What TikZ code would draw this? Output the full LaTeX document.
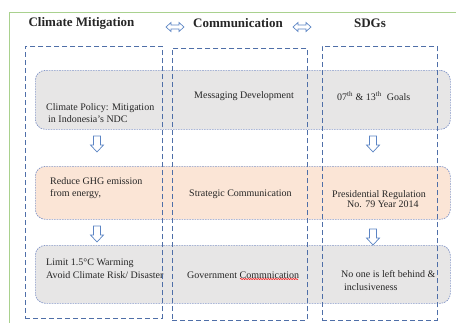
\documentclass[tikz,border=0pt]{standalone}
\usepackage{fontspec}
\setmainfont{Liberation Serif}
\usetikzlibrary{decorations.pathmorphing}
\definecolor{framegreen}{HTML}{A9D18E}
\definecolor{graybox}{HTML}{E7E6E6}
\definecolor{peachbox}{HTML}{FBE5D6}
\definecolor{boxline}{HTML}{8497C8}
\definecolor{colline}{HTML}{4F6FA8}
\definecolor{arrline}{HTML}{5B84C4}
\definecolor{txtgray}{HTML}{262626}
\tikzset{
  rowbox/.style={draw=boxline, line width=0.7pt, dash pattern=on 1.6pt off 1pt, rounded corners=10pt, anchor=north west, inner sep=0pt},
  colbox/.style={draw=colline, line width=0.8pt, dash pattern=on 5pt off 3pt, anchor=north west, inner sep=0pt},
  title/.style={font=\fontsize{13}{15}\selectfont\bfseries, inner sep=0pt, text=txtgray},
  txt/.style={font=\fontsize{10}{12.5}\selectfont, inner sep=0pt, align=left, anchor=west, text=txtgray},
  hollow/.style={draw=arrline, fill=white, line width=0.7pt, line join=miter},
  downarr/.pic={\path[hollow] (-3.5,0) -- (3.5,0) -- (3.5,9) -- (6.5,9) -- (0,16) -- (-6.5,9) -- (-3.5,9) -- cycle;},
  lrarr/.pic={\path[hollow] (-9,0) -- (-4,-4.5) -- (-4,-2) -- (4,-2) -- (4,-4.5) -- (9,0) -- (4,4.5) -- (4,2) -- (-4,2) -- (-4,4.5) -- cycle;}
}
\begin{document}
\begin{tikzpicture}[x=1pt,y=-1pt]
\useasboundingbox (0,0) rectangle (456,322);
% outer frame
\draw[framegreen, line width=0.9pt] (9.5,340) |- (470,12);
% titles
\node[title] (h1) at (81.5,23) {Climate Mitigation};
\node[title] (h2) at (238,23) {Communication};
\node[title] (h3) at (370,23) {SDGs};
\pic at (175,27) {lrarr};
\pic at (302,27) {lrarr};
% row boxes
\node[rowbox, fill=graybox, minimum width=415pt, minimum height=59pt] (r1) at (35,70) {};
\node[rowbox, fill=peachbox, minimum width=415pt, minimum height=53pt] (r2) at (35,166) {};
\node[rowbox, fill=graybox, minimum width=415pt, minimum height=58pt] (r3) at (35,245) {};
% texts row 1
\node[txt] (t11) at (46,113) {Climate Policy: Mitigation\\\hspace{2pt}in Indonesia's NDC};
\node[txt] (t12) at (194,96) {Messaging Development};
\node[txt] (t13) at (337,96) {07\textsuperscript{th} \& 13\textsuperscript{th}\ \ Goals};
% texts row 2
\node[txt] (t21) at (50,188) {Reduce GHG emission\\from energy,};
\node[txt] (t22) at (189,194) {Strategic Communication};
\node[txt, font=\fontsize{10}{10.5}\selectfont] (t23) at (332,199) {Presidential Regulation\\\hspace{15pt}No. 79 Year 2014};
% texts row 3
\node[txt, font=\fontsize{10}{13.3}\selectfont] (t31) at (46,268.5) {Limit 1.5°C Warming\\Avoid Climate Risk/ Disaster};
\node[txt] (t32) at (187,275) {Government Commnication};
\node[txt] (t33) at (341,280.5) {No one is left behind \&\\\hspace{3pt}inclusiveness};
\draw[red, line width=0.5pt, decorate, decoration={snake, amplitude=0.6pt, segment length=2.5pt}] (240,279) -- (298,279);
% down arrows
\pic at (97,136) {downarr};
\pic at (373,136) {downarr};
\pic at (97,226) {downarr};
\pic at (373,229) {downarr};
% columns
\node[colbox, minimum width=137pt, minimum height=272pt] (c1) at (25,46) {};
\node[colbox, minimum width=135pt, minimum height=272pt] (c2) at (172,48) {};
\node[colbox, minimum width=115pt, minimum height=274pt] (c3) at (322,46) {};
\end{tikzpicture}
\end{document}
